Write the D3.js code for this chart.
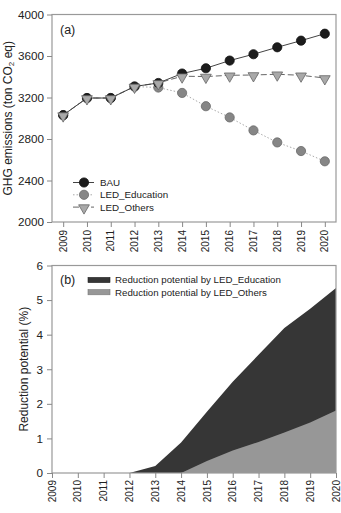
<!DOCTYPE html>
<html>
<head>
<meta charset="utf-8">
<script src="https://cdn.jsdelivr.net/npm/d3@7"></script>
<style>
  body { margin: 0; background: #fff; }
  svg { font-family: "Liberation Sans", Arial, sans-serif; }
  .axis text { fill: #222; }
  .axis line, .axis path { stroke: #888; }
</style>
</head>
<body>
<div id="chart"></div>
<script>
// years on both panels
var years = [2009, 2010, 2011, 2012, 2013, 2014, 2015, 2016, 2017, 2018, 2019, 2020];

// (a) emissions, ton CO2 eq
var bau = [3030, 3195, 3195, 3306, 3340, 3431, 3482, 3556, 3617, 3684, 3748, 3815];
var ledEducation = [3030, 3195, 3195, 3306, 3296, 3244, 3116, 3008, 2883, 2767, 2684, 2585];
var ledOthers = [3030, 3195, 3195, 3306, 3340, 3405, 3402, 3414, 3417, 3424, 3414, 3388];
var emissionTicks = [2000, 2400, 2800, 3200, 3600, 4000];

// (b) reduction potential, %
var redEducation = [0, 0, 0, 0, 0.2, 0.88, 1.77, 2.64, 3.42, 4.19, 4.75, 5.35];
var redOthers = [0, 0, 0, 0, 0, 0, 0.35, 0.65, 0.9, 1.17, 1.46, 1.81];
var reductionTicks = [0, 1, 2, 3, 4, 5, 6];

var W = 341, H = 513;
var left = 52, right = 336;

var svg = d3.select("#chart").append("svg")
    .attr("width", W)
    .attr("height", H);

// year labels drawn vertically (bottom-to-top), ending just under the tick
function yearLabels(scale, y0) {
  var lab = svg.selectAll(null)
    .data(years)
    .enter().append("g")
    .attr("transform", function(d) {
      return "translate(" + (scale(d) + 3.6) + "," + y0 + ") rotate(-90)";
    });
  lab.append("text")
    .text(function(d) { return String(d) })
    .attr("text-anchor", "end")
    .style("font-size", "10px")
    .attr("fill", "#222");
}

// ---------- panel (a) ----------
var topA = 14.5, bottomA = 222;

var xA = d3.scalePoint()
    .domain(years)
    .range([left, right])
    .padding(0.47);

var yA = d3.scaleLinear()
    .domain([2000, 4000])
    .range([bottomA, topA]);

var gA = svg.append("g");

gA.append("rect")
    .attr("x", left).attr("y", topA)
    .attr("width", right - left).attr("height", bottomA - topA)
    .attr("fill", "none").attr("stroke", "#999").attr("stroke-width", 1.2);

gA.append("g")
    .attr("class", "axis")
    .attr("transform", "translate(" + left + ",0)")
    .call(d3.axisLeft(yA).tickValues(emissionTicks).tickFormat(d3.format("d")).tickSize(5).tickPadding(3))
    .call(function(g) { g.select(".domain").remove() })
    .selectAll("text").style("font-size", "11.7px");

gA.append("g")
    .attr("class", "axis x-axis")
    .attr("transform", "translate(0," + bottomA + ")")
    .call(d3.axisBottom(xA).tickSize(5).tickFormat(""))
    .call(function(g) { g.select(".domain").remove() });
yearLabels(xA, bottomA + 8);

var lineA = function(vals) {
  return d3.line()
    .x(function(d, i) { return xA(years[i]) })
    .y(function(d) { return yA(d) })(vals);
};

var series = [
  { name: "LED_Education", values: ledEducation, stroke: "#aaa", dash: "1.5,2", fill: "#868686", mstroke: "#6a6a6a", shape: "circle" },
  { name: "LED_Others", values: ledOthers, stroke: "#666", dash: "6,3", fill: "#a9a9a9", mstroke: "#666", shape: "triangle" },
  { name: "BAU", values: bau, stroke: "#444", dash: null, fill: "#1c1c1c", mstroke: "#111", shape: "circle" }
];

function drawMarker(g, s, x, y) {
  if (s.shape == "circle") {
    g.append("circle")
      .attr("cx", x).attr("cy", y).attr("r", 4.6)
      .attr("fill", s.fill).attr("stroke", s.mstroke).attr("stroke-width", 0.8);
  } else {
    g.append("path")
      .attr("d", d3.symbol().type(d3.symbolTriangle).size(50)())
      .attr("transform", "translate(" + x + "," + (y + 0.8) + ") rotate(180)")
      .attr("fill", s.fill).attr("stroke", s.mstroke).attr("stroke-width", 0.8);
  }
}

series.forEach(function(s) {
  gA.append("path")
    .attr("d", lineA(s.values))
    .attr("fill", "none")
    .attr("stroke", s.stroke)
    .attr("stroke-width", 1)
    .attr("stroke-dasharray", s.dash);
});

// markers: education first, then BAU, then others on top (as in the figure)
[series[0], series[2], series[1]].forEach(function(s) {
  s.values.forEach(function(v, i) {
    drawMarker(gA, s, xA(years[i]), yA(v));
  });
});

gA.append("text")
    .text("(a)")
    .attr("x", 60).attr("y", 33.5)
    .style("font-size", "12.5px").attr("fill", "#222");

// legend (a)
var legA = [series[2], series[0], series[1]];
legA.forEach(function(s, i) {
  var ly = 182.5 + i * 12.3;
  gA.append("line")
    .attr("x1", 73).attr("x2", 94).attr("y1", ly).attr("y2", ly)
    .attr("stroke", s.stroke).attr("stroke-width", 1)
    .attr("stroke-dasharray", s.dash);
  drawMarker(gA, s, 84, ly);
  gA.append("text")
    .text(s.name)
    .attr("x", 100).attr("y", ly).attr("dy", "0.35em")
    .style("font-size", "9.8px").attr("fill", "#222");
});

var titleA = svg.append("text")
    .attr("transform", "translate(11.5," + ((topA + bottomA) / 2) + ") rotate(-90)")
    .attr("text-anchor", "middle")
    .style("font-size", "12px")
    .attr("fill", "#222");
titleA.append("tspan").text("GHG emissions (ton CO");
titleA.append("tspan").text("2").style("font-size", "8px").attr("dy", 2);
titleA.append("tspan").text(" eq)").attr("dy", -2);

// ---------- panel (b) ----------
var topB = 265.5, bottomB = 473;

var xB = d3.scaleLinear()
    .domain([2009, 2020])
    .range([left, right]);

var yB = d3.scaleLinear()
    .domain([0, 6])
    .range([bottomB, topB]);

var gB = svg.append("g");

var area = d3.area()
    .x(function(d, i) { return xB(years[i]) })
    .y0(yB(0))
    .y1(function(d) { return yB(d) });

gB.append("path")
    .attr("d", area(redEducation))
    .attr("fill", "#363636");

gB.append("path")
    .attr("d", area(redOthers))
    .attr("fill", "#979797");

gB.append("rect")
    .attr("x", left).attr("y", topB)
    .attr("width", right - left).attr("height", bottomB - topB)
    .attr("fill", "none").attr("stroke", "#999").attr("stroke-width", 1.2);

gB.append("g")
    .attr("class", "axis")
    .attr("transform", "translate(" + left + ",0)")
    .call(d3.axisLeft(yB).tickValues(reductionTicks).tickFormat(d3.format("d")).tickSize(5).tickPadding(4))
    .call(function(g) { g.select(".domain").remove() })
    .selectAll("text").style("font-size", "11.7px");

gB.append("g")
    .attr("class", "axis x-axis")
    .attr("transform", "translate(0," + bottomB + ")")
    .call(d3.axisBottom(xB).tickValues(years).tickSize(5).tickFormat(""))
    .call(function(g) { g.select(".domain").remove() });
yearLabels(xB, bottomB + 7);

gB.append("text")
    .text("(b)")
    .attr("x", 60).attr("y", 283.5)
    .style("font-size", "12.5px").attr("fill", "#222");

var legB = [
  { name: "Reduction potential by LED_Education", fill: "#363636", stroke: "#222" },
  { name: "Reduction potential by LED_Others", fill: "#979797", stroke: "#777" }
];
legB.forEach(function(s, i) {
  var ly = 280 + i * 12.2;
  gB.append("rect")
    .attr("x", 88).attr("y", ly - 2.6)
    .attr("width", 22).attr("height", 5.2)
    .attr("fill", s.fill).attr("stroke", s.stroke).attr("stroke-width", 0.6);
  gB.append("text")
    .text(s.name)
    .attr("x", 115).attr("y", ly).attr("dy", "0.35em")
    .style("font-size", "9.7px").attr("fill", "#222");
});

svg.append("text")
    .text("Reduction potential (%)")
    .attr("transform", "translate(27.5," + ((topB + bottomB) / 2) + ") rotate(-90)")
    .attr("text-anchor", "middle")
    .style("font-size", "12px")
    .attr("fill", "#222");
</script>
</body>
</html>
